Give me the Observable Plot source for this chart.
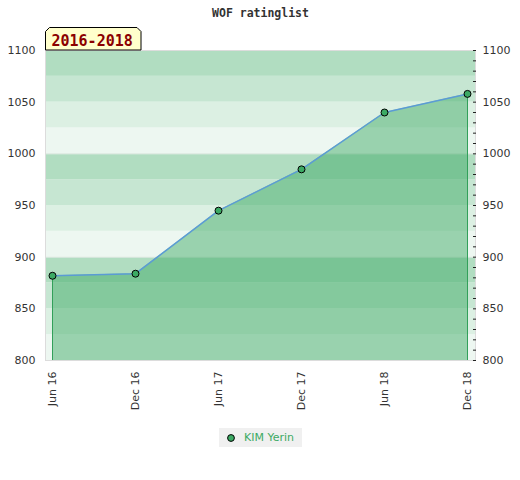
<!DOCTYPE html>
<html><head><meta charset="utf-8">
<script src="https://cdn.jsdelivr.net/npm/d3@7"></script>
<script src="https://cdn.jsdelivr.net/npm/@observablehq/plot@0.6"></script>
<style>
body{margin:0;background:#fff;width:520px;height:480px;overflow:hidden}
#title{height:20px;text-align:center;font:bold 11.5px "DejaVu Sans Mono",monospace;color:#333;line-height:26px;padding-left:1px;white-space:pre}
#chart svg{display:block;overflow:visible}
#legend{display:flex;justify-content:center;margin-top:8px;padding-left:1px}
.item{display:inline-flex;align-items:center;height:19px;background:#f0f0f0;padding:0 8px;font:11px "DejaVu Sans",sans-serif;color:rgb(60,170,100)}
.item svg{margin-right:9px}
</style></head><body>
<div id="title">WOF ratinglist</div>
<div id="chart"></div>
<div id="legend"></div>
<script>
// ---- data ----
const periods = ["Jun 16", "Dec 16", "Jun 17", "Dec 17", "Jun 18", "Dec 18"];
const ratings = [882, 884, 945, 985, 1040, 1058];
const player = "KIM Yerin";
const title = "WOF ratinglist";
const rangeLabel = "2016-2018";
const yTicks = [800, 850, 900, 950, 1000, 1050, 1100];
const yMinorTicks = d3.range(800, 1101, 10);
const yGrid = [800, 900, 1000, 1100];
const bandStarts = d3.range(800, 1100, 25);

// ---- chart ----
const G = "rgb(60,170,100)";
const shade = [0.09, 0.18, 0.29, 0.40];
const data = periods.map((p, i) => ({period: p, rating: ratings[i]}));
const bands = bandStarts.map(y => ({y1: y, y2: y + 25, k: ((y - 800) / 25) % 4}));
const ends = [data[0], data[data.length - 1]];

document.getElementById("title").textContent = title;

const labelBox = (index, scales, values, dims) => {
  const x0 = dims.marginLeft + 0.5, yb = dims.marginTop;
  const g = d3.create("svg:g");
  g.append("path")
    .attr("d", `M${x0},${yb}V${yb - 18.5}l4,-4H${x0 + 91.5}l4,4V${yb}Z`)
    .attr("fill", "#ffffcc").attr("stroke", "#000").attr("stroke-width", 1);
  g.append("text")
    .attr("x", x0 + 6).attr("y", yb - 4.3)
    .attr("text-anchor", "start")
    .attr("fill", "#8b0000")
    .attr("font-family", "DejaVu Sans Mono")
    .attr("font-weight", "bold")
    .attr("font-size", 15)
    .text(rangeLabel);
  return g.node();
};

const chart = Plot.plot({
  width: 520, height: 400,
  marginTop: 30, marginBottom: 60, marginLeft: 45, marginRight: 45,
  style: {fontFamily: "DejaVu Sans", fontSize: "11px", color: "#333", background: "transparent"},
  x: {type: "point", domain: periods, padding: 0.084, align: 0.45, label: null},
  y: {domain: [800, 1100], label: null},
  marks: [
    Plot.rect(bands, {y1: "y1", y2: "y2", fill: d => d3.interpolateRgb("#ffffff", G)(shade[d.k])}),
    Plot.ruleY(yGrid, {stroke: "#e6ece8", strokeWidth: 1}),
    Plot.areaY(data, {x: "period", y1: () => 800, y2: "rating", fill: G, fillOpacity: 0.48}),
    Plot.ruleX(ends, {x: "period", y1: () => 800, y2: "rating", stroke: "rgb(50,160,90)", strokeWidth: 1}),
    Plot.line(data, {x: "period", y: "rating", stroke: "#5b9bd5", strokeWidth: 1.5}),
    Plot.dot(data, {x: "period", y: "rating", r: 3.5, fill: G, stroke: "#000", strokeWidth: 1}),
    Plot.frame({stroke: "#dcdcdc"}),
    Plot.axisY({anchor: "left", ticks: yTicks, tickSize: 0, tickPadding: 10, tickFormat: "d"}),
    Plot.axisY({anchor: "right", ticks: yTicks, tickSize: 0, tickPadding: 7, tickFormat: "d"}),
    Plot.axisY({anchor: "right", ticks: yMinorTicks, tickSize: 3, dx: -3, tickFormat: () => "", stroke: "#222"}),
    Plot.axisX({anchor: "bottom", tickSize: 0, tickPadding: 11, tickRotate: -90}),
    labelBox
  ]
});
document.getElementById("chart").appendChild(chart);

// ---- legend ----
const item = document.createElement("span");
item.className = "item";
item.innerHTML = `<svg width="8" height="8"><circle cx="4" cy="4" r="3.4" fill="${G}" stroke="#000" stroke-width="1"/></svg>`;
item.appendChild(document.createTextNode(player));
document.getElementById("legend").appendChild(item);
</script>
</body></html>
